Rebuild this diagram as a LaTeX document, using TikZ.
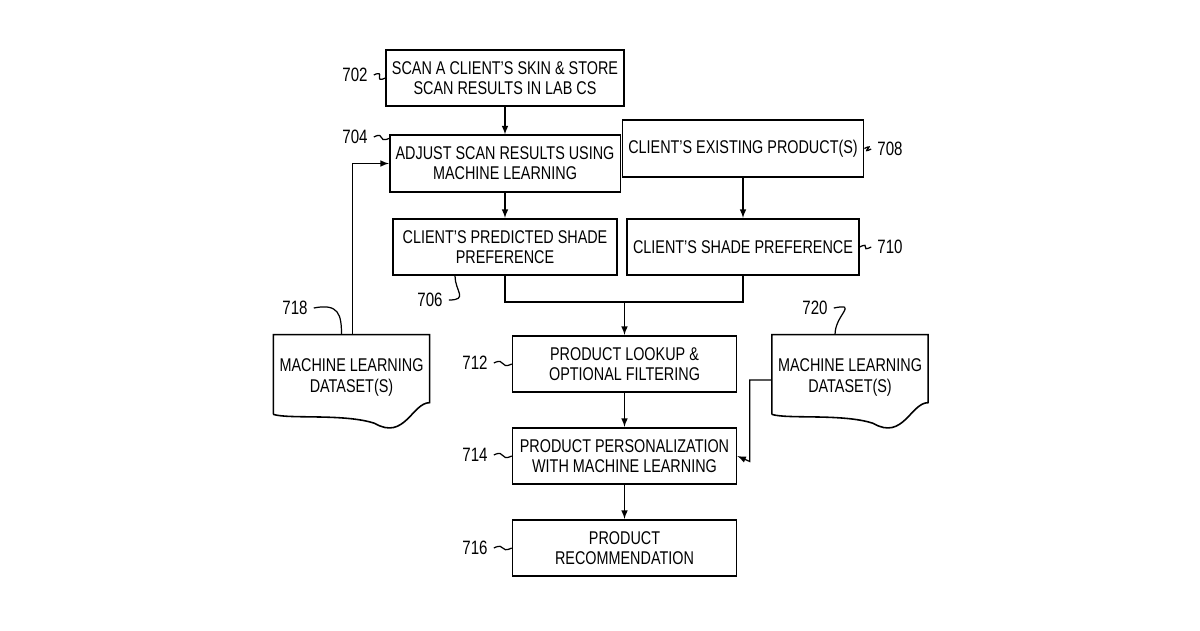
\documentclass[tikz,border=0pt]{standalone}
\usepackage{fontspec}
\setmainfont[FakeStretch=0.78]{Liberation Sans}
\usetikzlibrary{positioning}
\tikzset{
  stepbox/.style={draw, line width=0.9pt, minimum width=4.48cm, minimum height=1.13cm, align=center, font=\fontsize{10.5}{11.5}\selectfont},
  docbox/.style={align=center, minimum width=2.54cm, minimum height=1.7cm, font=\fontsize{10.5}{11.5}\selectfont},
  flow/.style={line width=0.7pt, -latex},
  tag/.style={font=\fontsize{11}{12}\selectfont},
}
\newcommand{\docoutline}[1]{\draw[line width=0.9pt] (#1.south west) ++(0,0.12) -- (#1.north west) -- (#1.north east) -- ++(0,-1.36)
  .. controls +(-0.35,0) and +(0.6,-0.35) .. ([xshift=-1.1cm,yshift=-0.06cm]#1.south east)
  .. controls +(-0.6,0.2) and +(0.3,-0.1) .. ([yshift=0.12cm]#1.south west);}
\begin{document}
\begin{tikzpicture}
\useasboundingbox (0,0) rectangle (24,12.6);

% boxes of the flow
\node[stepbox] (scan) at (10.1,11.04) {SCAN A CLIENT'S SKIN \& STORE\\SCAN RESULTS IN LAB CS};
\node[stepbox] (adjust) at (10.1,9.33) {ADJUST SCAN RESULTS USING\\MACHINE LEARNING};
\node[stepbox] (predicted) at (10.1,7.66) {CLIENT'S PREDICTED SHADE\\PREFERENCE};
\node[stepbox] (existing) at (14.86,9.63) {CLIENT'S EXISTING PRODUCT(S)};
\node[stepbox] (preference) at (14.86,7.66) {CLIENT'S SHADE PREFERENCE};
\node[stepbox] (lookup) at (12.49,5.32) {PRODUCT LOOKUP \&\\OPTIONAL FILTERING};
\node[stepbox] (personal) at (12.49,3.48) {PRODUCT PERSONALIZATION\\WITH MACHINE LEARNING};
\node[stepbox] (recommend) at (12.49,1.64) {PRODUCT\\RECOMMENDATION};

% datasets
\node[docbox] (dataL) at (7.03,5.05) {MACHINE LEARNING\\DATASET(S)};
\node[docbox] (dataR) at (17.0,5.05) {MACHINE LEARNING\\DATASET(S)};
\docoutline{dataL}
\docoutline{dataR}

% connectors
\coordinate (join) at (12.49,6.56);
\draw[flow] (scan) -- (adjust);
\draw[flow] (adjust) -- (predicted);
\draw[flow] (existing) -- (preference);
\draw[line width=0.7pt] (predicted.south) |- (join) -| (preference.south);
\draw[flow] (join) -- (lookup);
\draw[flow] (lookup) -- (personal);
\draw[flow] (personal) -- (recommend);
\draw[flow] ([xshift=0.02cm]dataL.north) |- (adjust.west);
\draw[flow] ([yshift=-0.05cm]dataR.west) -| ++(-0.44,-1.63) -- (personal.east);

% reference numerals
\node[tag] (n702) at (7.1,11.1) {702};
\node[tag] (n704) at (7.1,9.86) {704};
\node[tag] (n708) at (17.8,9.62) {708};
\node[tag] (n710) at (17.8,7.66) {710};
\node[tag] (n706) at (8.6,6.6) {706};
\node[tag] (n712) at (9.5,5.34) {712};
\node[tag] (n714) at (9.5,3.5) {714};
\node[tag] (n716) at (9.5,1.64) {716};
\node[tag] (n718) at (5.9,6.44) {718};
\node[tag] (n720) at (16.3,6.44) {720};
\draw[line width=0.7pt] (n702.east) .. controls +(0.25,0.12) and +(-0.25,-0.12) .. (scan.west);
\draw[line width=0.7pt] (n704.east) .. controls +(0.25,0.12) and +(-0.25,-0.1) .. ([yshift=0.5cm]adjust.west);
\draw[line width=0.7pt] (n708.west) .. controls +(-0.25,-0.12) and +(0.25,0.12) .. (existing.east);
\draw[line width=0.7pt] (n710.west) .. controls +(-0.25,-0.12) and +(0.25,0.12) .. (preference.east);
\draw[line width=0.7pt] (n712.east) .. controls +(0.25,0.12) and +(-0.25,-0.12) .. (lookup.west);
\draw[line width=0.7pt] (n714.east) .. controls +(0.25,0.12) and +(-0.25,-0.12) .. (personal.west);
\draw[line width=0.7pt] (n716.east) .. controls +(0.25,0.12) and +(-0.25,-0.12) .. (recommend.west);
\draw[line width=0.7pt] (n706.east) .. controls +(0.4,0) and +(0,-0.3) .. ([xshift=-1.0cm]predicted.south);
\draw[line width=0.7pt] (n718.east) .. controls +(0.5,0.1) and +(0,0.4) .. ([xshift=-0.2cm]dataL.north);
\draw[line width=0.7pt] (n720.east) .. controls +(0.5,0.1) and +(0,0.4) .. ([xshift=-0.3cm]dataR.north);
\end{tikzpicture}
\end{document}
